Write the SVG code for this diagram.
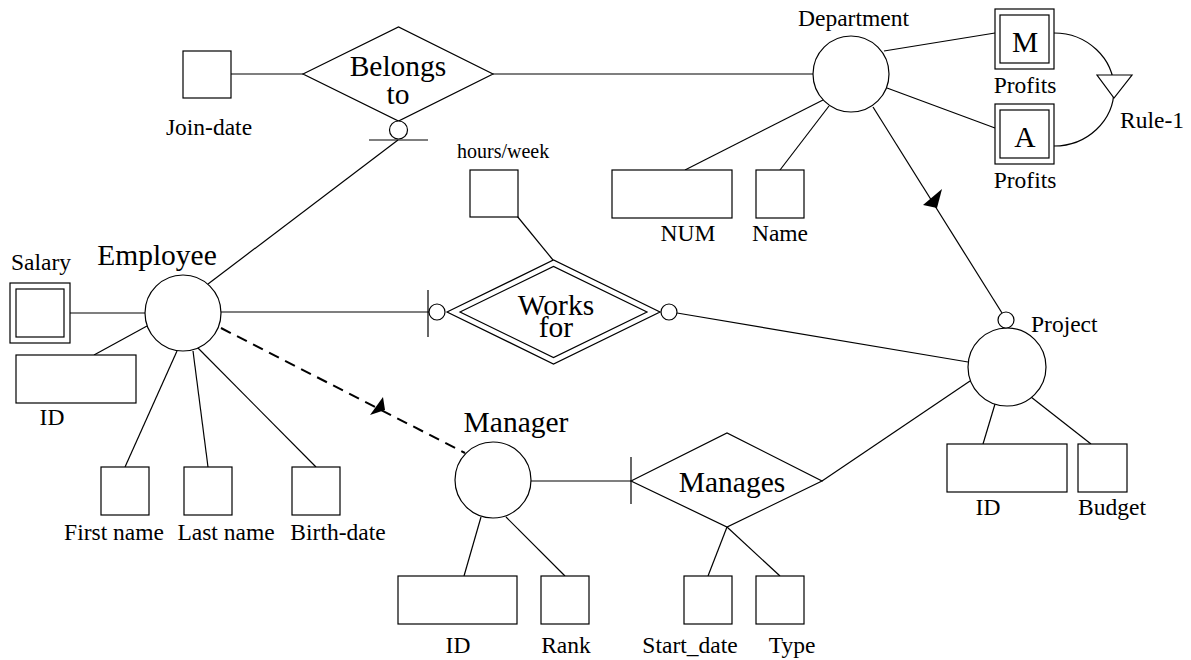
<svg xmlns="http://www.w3.org/2000/svg" width="1191" height="660" viewBox="0 0 1191 660">
<style>
.s{fill:#fff;stroke:#000;stroke-width:1.2}
.l{fill:none;stroke:#000;stroke-width:1.2}
.t{font-family:"Liberation Serif","Times New Roman",serif;font-size:23.5px;fill:#000}
.b{font-family:"Liberation Serif","Times New Roman",serif;font-size:29.5px;fill:#000}
.c{text-anchor:middle}
</style>
<rect width="1191" height="660" fill="#fff"/>
<g id="connectors">
<line class="l" x1="231" y1="74" x2="303" y2="74"/>
<line class="l" x1="493" y1="74" x2="813" y2="74"/>
<line class="l" x1="398" y1="140" x2="208" y2="284"/>
<line class="l" x1="369" y1="140" x2="428" y2="140"/>
<line class="l" x1="823" y1="100" x2="685" y2="170"/>
<line class="l" x1="829" y1="106" x2="780" y2="170"/>
<line class="l" x1="873" y1="107" x2="1002" y2="313"/>
<polygon points="942,189 923,205 937,208" fill="#000"/>
<line class="l" x1="884" y1="51" x2="995" y2="33"/>
<line class="l" x1="887" y1="88" x2="995" y2="128"/>
<path class="l" d="M1054,33 A60 56.5 0 0 1 1054,146"/>
<line class="l" x1="517" y1="216" x2="553" y2="260"/>
<line class="l" x1="70" y1="313" x2="145" y2="313"/>
<line class="l" x1="147" y1="326" x2="94" y2="355"/>
<line class="l" x1="177" y1="351" x2="125" y2="467"/>
<line class="l" x1="193" y1="351" x2="208" y2="467"/>
<line class="l" x1="197" y1="347" x2="316" y2="467"/>
<line class="l" x1="221" y1="312" x2="429" y2="312"/>
<line class="l" x1="428" y1="290" x2="428" y2="337"/>
<line class="l" x1="677" y1="313" x2="968" y2="362"/>
<line x1="221" y1="328" x2="465" y2="453" stroke="#000" stroke-width="2" stroke-dasharray="11 7"/>
<polygon points="383,397 370,415 385,410" fill="#000"/>
<line class="l" x1="531" y1="481" x2="631" y2="481"/>
<line class="l" x1="631" y1="457" x2="631" y2="504"/>
<line class="l" x1="822" y1="481" x2="970" y2="381"/>
<line class="l" x1="481" y1="517" x2="464" y2="576"/>
<line class="l" x1="506" y1="517" x2="565" y2="576"/>
<line class="l" x1="727" y1="527" x2="708" y2="576"/>
<line class="l" x1="727" y1="527" x2="780" y2="576"/>
<line class="l" x1="995" y1="404" x2="983" y2="444"/>
<line class="l" x1="1031" y1="397" x2="1091" y2="444"/>
</g>
<g id="join-date">
<rect class="s" x="183" y="51" width="48" height="47"/>
<text class="t c" x="209" y="135">Join-date</text>
</g>
<g id="belongs-to">
<polygon class="s" points="303,74 398.5,27 493,74 398.5,121"/>
<circle class="s" cx="398.5" cy="130" r="9"/>
<text class="b c" x="398" y="76">Belongs</text>
<text class="b c" x="398" y="104">to</text>
</g>
<g id="department">
<circle class="s" cx="851" cy="74" r="38"/>
<text class="t" x="798" y="26">Department</text>
</g>
<g id="profits-m">
<rect class="s" x="995" y="9" width="59" height="60"/>
<rect class="s" x="1000" y="15" width="49" height="48"/>
<text class="b c" x="1025" y="52">M</text>
<text class="t c" x="1025" y="93">Profits</text>
</g>
<g id="profits-a">
<rect class="s" x="995" y="104" width="59" height="60"/>
<rect class="s" x="1000" y="110" width="49" height="48"/>
<text class="b c" x="1025" y="147">A</text>
<text class="t c" x="1025" y="188">Profits</text>
</g>
<g id="rule-1">
<polygon class="s" points="1097,75 1132,75 1114,98"/>
<text class="t" x="1120" y="128">Rule-1</text>
</g>
<g id="dept-num">
<rect class="s" x="612" y="170" width="120" height="48"/>
<text class="t c" x="688" y="241">NUM</text>
</g>
<g id="dept-name">
<rect class="s" x="756" y="170" width="48" height="48"/>
<text class="t c" x="780" y="241">Name</text>
</g>
<g id="hours-week">
<rect class="s" x="470" y="170" width="48" height="47"/>
<text class="t" x="457" y="158" style="font-size:20px">hours/week</text>
</g>
<g id="employee">
<circle class="s" cx="183" cy="313" r="38"/>
<text class="b c" x="157" y="265">Employee</text>
</g>
<g id="salary">
<rect class="s" x="10" y="283" width="60" height="60"/>
<rect class="s" x="16" y="289" width="48" height="48"/>
<text class="t c" x="41" y="270">Salary</text>
</g>
<g id="emp-id">
<rect class="s" x="16" y="355" width="120" height="48"/>
<text class="t c" x="52" y="425">ID</text>
</g>
<g id="first-name">
<rect class="s" x="101" y="467" width="48" height="48"/>
<text class="t c" x="114" y="540">First name</text>
</g>
<g id="last-name">
<rect class="s" x="184" y="467" width="48" height="48"/>
<text class="t c" x="226" y="540">Last name</text>
</g>
<g id="birth-date">
<rect class="s" x="292" y="467" width="48" height="48"/>
<text class="t c" x="338" y="540">Birth-date</text>
</g>
<g id="works-for">
<polygon class="s" points="447,312 553.5,260 660,312 553.5,364"/>
<polygon class="s" points="460,312 553.5,266.5 647,312 553.5,357.5"/>
<circle class="s" cx="437" cy="312" r="8"/>
<circle class="s" cx="669" cy="312" r="8"/>
<text class="b c" x="556" y="315">Works</text>
<text class="b c" x="556" y="337">for</text>
</g>
<g id="project">
<circle class="s" cx="1007" cy="367" r="39"/>
<circle class="s" cx="1006" cy="320" r="8"/>
<text class="t" x="1031" y="332">Project</text>
</g>
<g id="proj-id">
<rect class="s" x="947" y="444" width="120" height="48"/>
<text class="t c" x="988" y="515">ID</text>
</g>
<g id="budget">
<rect class="s" x="1078" y="444" width="49" height="48"/>
<text class="t c" x="1112" y="515">Budget</text>
</g>
<g id="manager">
<circle class="s" cx="493" cy="480" r="38"/>
<text class="b c" x="516" y="432">Manager</text>
</g>
<g id="manages">
<polygon class="s" points="631,481 727,433 822,481 727,527"/>
<text class="b c" x="732" y="492">Manages</text>
</g>
<g id="mgr-id">
<rect class="s" x="398" y="576" width="119" height="48"/>
<text class="t c" x="458" y="653">ID</text>
</g>
<g id="rank">
<rect class="s" x="541" y="576" width="48" height="48"/>
<text class="t c" x="566" y="653">Rank</text>
</g>
<g id="start-date">
<rect class="s" x="684" y="576" width="48" height="48"/>
<text class="t c" x="690" y="653">Start_date</text>
</g>
<g id="type">
<rect class="s" x="756" y="576" width="48" height="48"/>
<text class="t c" x="792" y="653">Type</text>
</g>
</svg>
